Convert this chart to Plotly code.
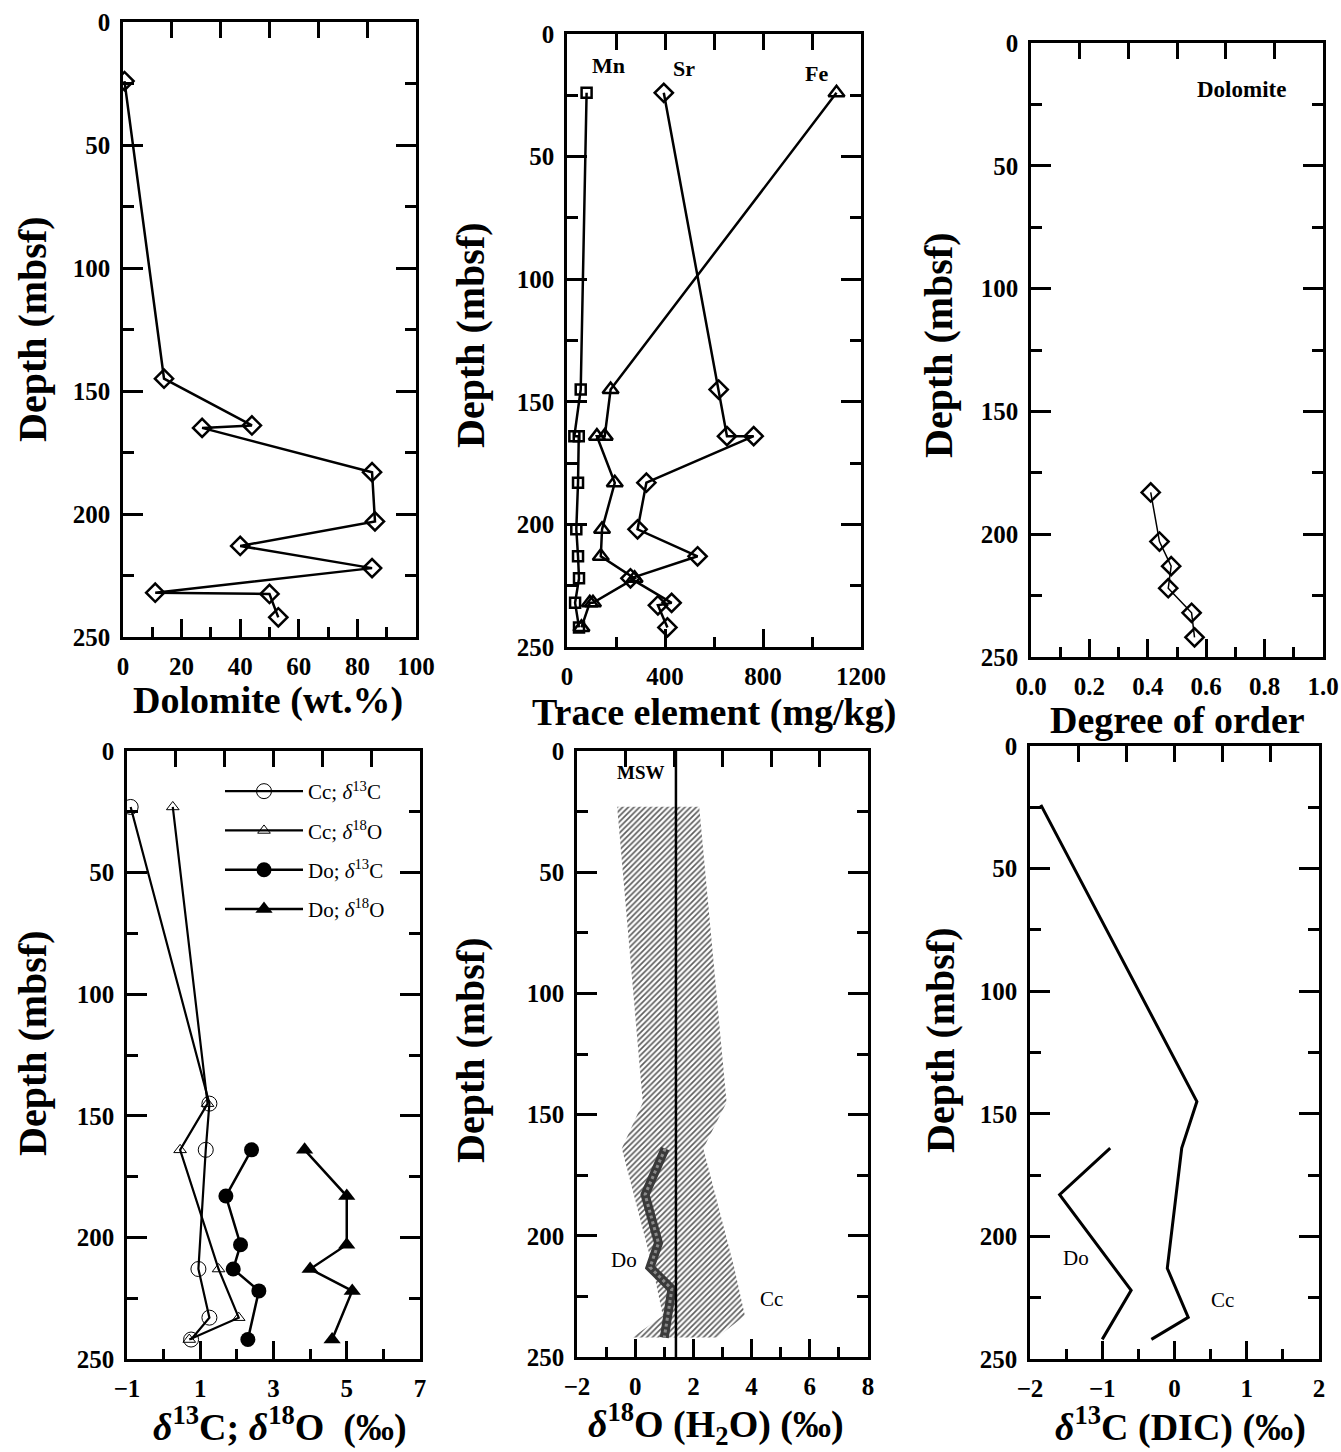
import plotly.graph_objects as go
import numpy as np

W, H = 1341, 1452
FONT = "Liberation Serif"

# ---------------- data ----------------
# Panel 1: dolomite content
dol_depth = [24, 145, 164, 165, 183, 203, 213, 222, 232, 232.5, 242]
dol_wt = [0.5, 14, 44, 27, 85, 86, 40, 85, 11, 50, 53]

# Panel 2: trace elements (mg/kg)
mn_depth = [24, 145, 164, 164, 183, 202, 213, 222, 232, 242]
mn_val = [80, 56, 30, 48, 45, 38, 45, 49, 33, 49]
fe_depth = [24, 145, 164, 164, 183, 202, 213, 222, 232, 232, 242]
fe_val = [1100, 178, 154, 122, 195, 143, 138, 276, 106, 93, 59]
sr_depth = [24, 145, 164, 164, 183, 202, 213, 222, 232, 233, 242]
sr_val = [395, 619, 653, 762, 324, 288, 533, 259, 427, 371, 410]

# Panel 3: dolomite degree of order
ord_depth = [183, 203, 213, 222, 232, 242]
ord_val = [0.41, 0.44, 0.48, 0.47, 0.55, 0.56]

# Panel 4: stable isotopes
cc_depth = [23, 145, 164, 213, 233, 242]
cc_d13c = [-0.9, 1.25, 1.15, 0.95, 1.25, 0.75]
cc_d18o = [0.25, 1.2, 0.45, 1.5, 2.05, 0.7]
do_depth = [164, 183, 203, 213, 222, 242]
do_d13c = [2.4, 1.7, 2.1, 1.9, 2.6, 2.3]
do_d18o = [3.85, 5.0, 5.0, 4.0, 5.15, 4.6]

# Panel 5: d18O of water
ccw_depth = [23, 145, 164, 213, 233, 242]
ccw_lo = [-0.62, 0.26, -0.46, 0.6, 0.95, -0.1]
ccw_hi = [2.2, 3.14, 2.34, 3.4, 3.77, 2.8]
dow_depth = [164, 183, 203, 213, 222, 232, 242]
dow_val = [1.03, 0.34, 0.80, 0.51, 1.26, 1.14, 1.0]
MSW = 1.4

# Panel 6: d13C of DIC
dic_cc_depth = [24, 145, 164, 213, 233, 242]
dic_cc = [-1.85, 0.31, 0.10, -0.10, 0.19, -0.32]
dic_do_depth = [164, 183, 222, 242]
dic_do = [-0.89, -1.59, -0.60, -1.0]

# ---------------- layout geometry (pixels: left, right, top, bottom) ----------------
PANELS = {
    1: (123, 416, 22, 637),
    2: (567, 861, 34, 647),
    3: (1031, 1323, 43, 657),
    4: (127, 420, 751, 1359),
    5: (577, 868, 751, 1357),
    6: (1030, 1319, 746, 1359),
}
XRANGE = {1: (0, 100), 2: (0, 1200), 3: (0, 1), 4: (-1, 7), 5: (-2, 8), 6: (-2, 2)}
XTICK = {  # tick0, dtick (labels), minor dtick
    1: (0, 20, 10), 2: (0, 400, 200), 3: (0, 0.2, 0.1),
    4: (-1, 2, 1), 5: (-2, 2, 1), 6: (-2, 1, 0.5)}
XFMT = {1: "", 2: "", 3: ".1f", 4: "", 5: "", 6: ""}


def sfx(i):
    return "" if i == 1 else str(i)


def px2x(p):
    return p / W


def px2y(p):
    return 1 - p / H


fig = go.Figure()
BLK = "black"


def add(i, x, y, xa=None, **kw):
    kw.setdefault("showlegend", False)
    fig.add_trace(go.Scatter(x=x, y=y, xaxis=xa or ("x" + sfx(i)), yaxis="y" + sfx(i),
                             hoverinfo="skip", **kw))


# Panel 1
add(1, dol_wt, dol_depth, mode="lines+markers", line=dict(color=BLK, width=2.5),
    marker=dict(symbol="diamond-open", size=14, color=BLK, line=dict(width=2.5)))

# Panel 2
add(2, mn_val, mn_depth, mode="lines+markers", line=dict(color=BLK, width=2.5),
    marker=dict(symbol="square-open", size=10, color=BLK, line=dict(width=2.5)))
add(2, fe_val, fe_depth, mode="lines+markers", line=dict(color=BLK, width=2.5),
    marker=dict(symbol="triangle-up-open", size=14, color=BLK, line=dict(width=2.5)))
add(2, sr_val, sr_depth, mode="lines+markers", line=dict(color=BLK, width=2.5),
    marker=dict(symbol="diamond-open", size=14, color=BLK, line=dict(width=2.5)))

# Panel 3
add(3, ord_val, ord_depth, mode="lines+markers", line=dict(color=BLK, width=1.5),
    marker=dict(symbol="diamond-open", size=14, color=BLK, line=dict(width=2.5)))

# Panel 4
add(4, cc_d13c, cc_depth, mode="lines+markers", line=dict(color=BLK, width=2.2),
    marker=dict(symbol="circle-open", size=15, color=BLK, line=dict(width=1)),
    name="Cc; <i>δ</i><sup>13</sup>C", showlegend=True, legendgroup="a")
add(4, cc_d18o, cc_depth, mode="lines+markers", line=dict(color=BLK, width=2.2),
    marker=dict(symbol="triangle-up-open", size=11, color=BLK, line=dict(width=1)),
    name="Cc; <i>δ</i><sup>18</sup>O", showlegend=True, legendgroup="b")
add(4, do_d13c, do_depth, mode="lines+markers", line=dict(color=BLK, width=2.5),
    marker=dict(symbol="circle", size=15, color=BLK),
    name="Do; <i>δ</i><sup>13</sup>C", showlegend=True, legendgroup="c")
add(4, do_d18o, do_depth, mode="lines+markers", line=dict(color=BLK, width=2.5),
    marker=dict(symbol="triangle-up", size=15, color=BLK),
    name="Do; <i>δ</i><sup>18</sup>O", showlegend=True, legendgroup="d")

# Panel 5
add(5, ccw_lo + ccw_hi[::-1], ccw_depth + ccw_depth[::-1], mode="lines", fill="toself",
    line=dict(width=0, color="rgba(0,0,0,0)"), fillcolor="white",
    fillpattern=dict(shape="/", fgcolor="#5e5e5e", bgcolor="white", size=4, solidity=0.42))
add(5, dow_val, dow_depth, mode="lines", line=dict(color="#3a3a3a", width=9))
add(5, dow_val, dow_depth, mode="lines", line=dict(color="#8a8a8a", width=3, dash="dot"))

# Panel 6
add(6, dic_cc, dic_cc_depth, mode="lines", line=dict(color=BLK, width=3))
add(6, dic_do, dic_do_depth, mode="lines", line=dict(color=BLK, width=3))

# invisible traces so that the top tick axes get drawn
for i in PANELS:
    add(i, list(XRANGE[i]), [None, None], xa="x" + str(i + 6), mode="markers",
        marker=dict(opacity=0))

# ---------------- axes ----------------
layout = dict(template="none", width=W, height=H, margin=dict(l=0, r=0, t=0, b=0, pad=0),
              paper_bgcolor="white", plot_bgcolor="white",
              font=dict(family=FONT, color=BLK))
tickfont = dict(family=FONT, size=25, color=BLK, weight="bold")
for i, (l, r, t, b) in PANELS.items():
    xd = [px2x(l), px2x(r)]
    yd = [px2y(b), px2y(t)]
    t0, dt, mdt = XTICK[i]
    layout["xaxis" + sfx(i)] = dict(
        domain=xd, anchor="y" + sfx(i), range=list(XRANGE[i]), showgrid=False, zeroline=False,
        automargin=False,
        showline=True, linewidth=2.5, linecolor=BLK, mirror=True,
        ticks="inside", ticklen=18, tickwidth=2.5, tickcolor=BLK, tick0=t0, dtick=dt,
        tickformat=XFMT[i], tickfont=tickfont, ticklabelstandoff=5,
        minor=dict(ticks="inside", dtick=mdt, tick0=t0, ticklen=10, tickwidth=2.5,
                   tickcolor=BLK, showgrid=False))
    layout["yaxis" + sfx(i)] = dict(
        domain=yd, anchor="x" + sfx(i), range=[250, 0], showgrid=False, zeroline=False,
        automargin=False,
        showline=True, linewidth=2.5, linecolor=BLK, mirror="ticks",
        ticks="inside", ticklen=20, tickwidth=2.5, tickcolor=BLK, tick0=0, dtick=50,
        tickfont=tickfont, ticklabelstandoff=5,
        minor=dict(ticks="inside", dtick=25, ticklen=11, tickwidth=2.5, tickcolor=BLK,
                   showgrid=False))
    lo, hi = XRANGE[i]
    layout["xaxis" + str(i + 6)] = dict(
        overlaying="x" + sfx(i), anchor="y" + sfx(i), side="top", domain=xd,
        automargin=False,
        range=[lo, hi], tickmode="array", tickvals=list(np.linspace(lo, hi, 7)[1:-1]),
        ticks="inside", ticklen=16, tickwidth=2.5, tickcolor=BLK, showticklabels=False,
        showline=False, showgrid=False, zeroline=False)

# MSW reference line
layout["shapes"] = [dict(type="line", xref="x5", yref="y5 domain", x0=MSW, x1=MSW, y0=0, y1=1,
                         line=dict(color=BLK, width=2.5))]

# ---------------- text ----------------
ann = []
titlefont = dict(family=FONT, size=38, color=BLK, weight="bold")
xtitles = [
    ("Dolomite (wt.%)", 268, 700),
    ("Trace element (mg/kg)", 714, 712),
    ("Degree of order", 1177, 720),
    ("<i>δ</i><sup>13</sup>C; <i>δ</i><sup>18</sup>O\u00a0\u00a0(‰)", 280, 1424),
    ("<i>δ</i><sup>18</sup>O (H<sub>2</sub>O) (‰)", 716, 1424),
    ("<i>δ</i><sup>13</sup>C (DIC) (‰)", 1180, 1424),
]
for txt, x, y in xtitles:
    ann.append(dict(text=txt, x=px2x(x), y=px2y(y), xref="paper", yref="paper",
                    showarrow=False, font=titlefont, xanchor="center", yanchor="middle"))
ytitles = [(32, 329), (470, 335), (938, 345), (32, 1043), (470, 1050), (940, 1040)]
for x, y in ytitles:
    ann.append(dict(text="Depth (mbsf)", x=px2x(x), y=px2y(y), xref="paper", yref="paper",
                    showarrow=False, font=dict(family=FONT, size=40, color=BLK, weight="bold"),
                    textangle=-90, xanchor="center", yanchor="middle"))

labelfont_b = dict(family=FONT, size=22, color=BLK, weight="bold")
labelfont_r = dict(family=FONT, size=21, color=BLK)
in_labels = [
    (2, "Mn", 170, 13, labelfont_b),
    (2, "Sr", 476, 14, labelfont_b),
    (2, "Fe", 1020, 16, labelfont_b),
    (3, "Dolomite", 0.72, 19, dict(labelfont_b, size=23)),
    (5, "MSW", 0.19, 9, dict(labelfont_b, size=19)),
    (5, "Do", -0.4, 210, labelfont_r),
    (5, "Cc", 4.68, 226, labelfont_r),
    (6, "Do", -1.36, 209, labelfont_r),
    (6, "Cc", 0.67, 226, labelfont_r),
]
for i, txt, x, y, f in in_labels:
    ann.append(dict(text=txt, x=x, y=y, xref="x" + sfx(i), yref="y" + sfx(i),
                    showarrow=False, font=f, xanchor="center", yanchor="middle"))
layout["annotations"] = ann

layout["legend"] = dict(x=px2x(220), y=px2y(771), xanchor="left", yanchor="top",
                        font=dict(family=FONT, size=21, color=BLK),
                        bgcolor="rgba(0,0,0,0)", borderwidth=0,
                        traceorder="grouped", tracegroupgap=9, itemwidth=78,
                        itemsizing="trace")

fig.update_layout(**layout)
fig.write_html("out.html", config={"displayModeBar": False},
               post_script="document.body.style.margin='0px';")
